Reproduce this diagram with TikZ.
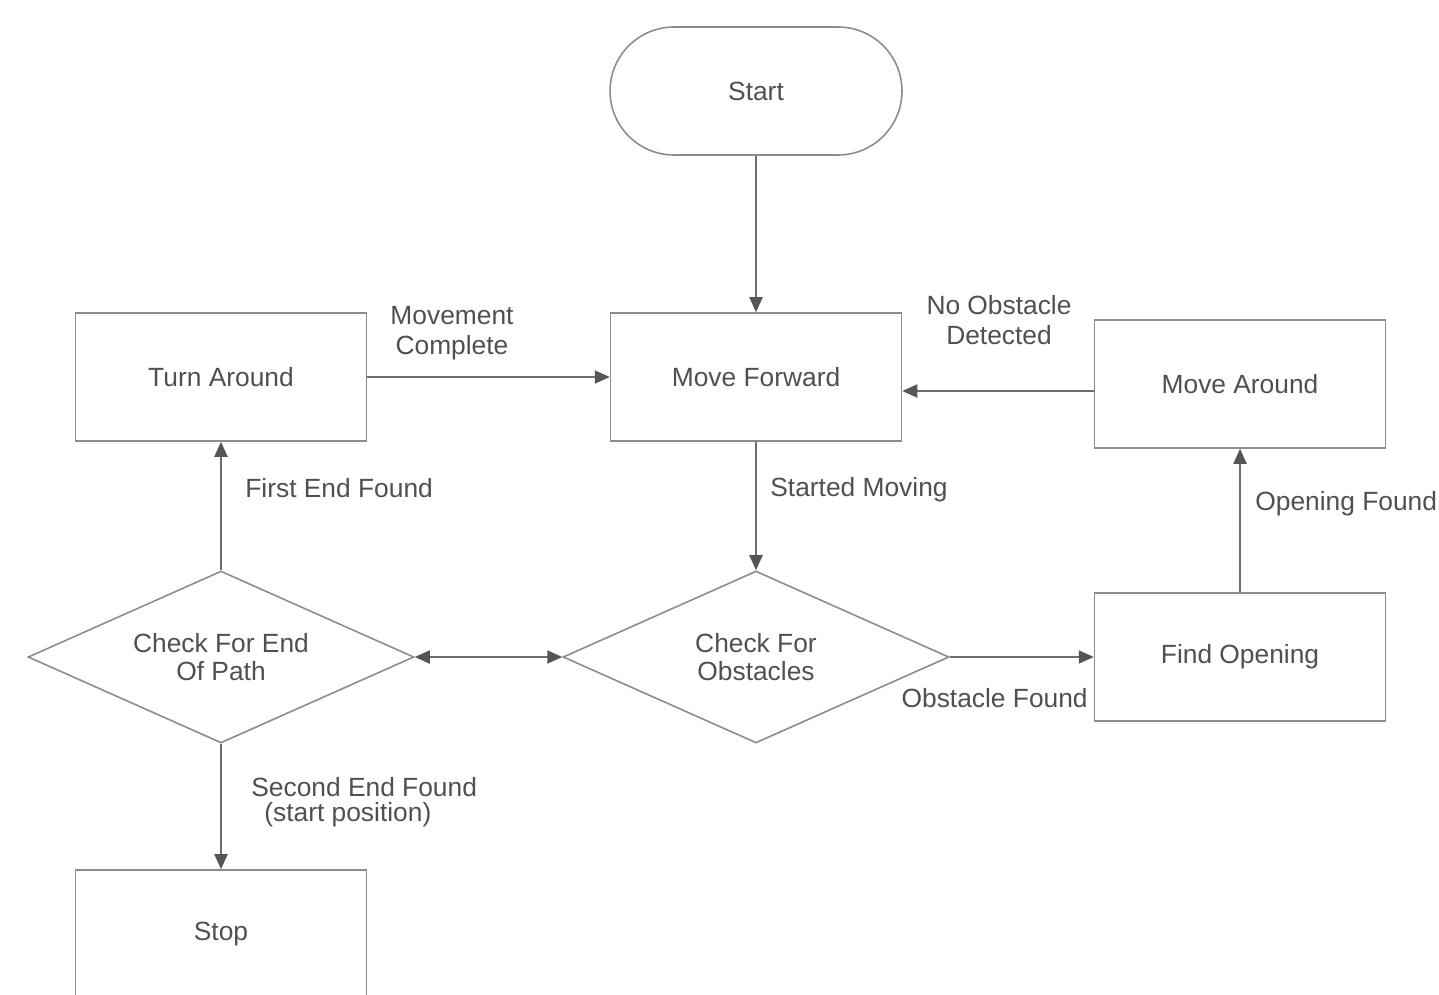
\documentclass[tikz,border=0pt]{standalone}
\usepackage{fontspec}
\setmainfont{Liberation Sans}
\usetikzlibrary{arrows.meta,shapes.geometric}
\definecolor{txt}{HTML}{505050}
\definecolor{bord}{HTML}{8C8C8C}
\definecolor{conn}{HTML}{6E6E6E}
\definecolor{head}{HTML}{555555}
\begin{document}
\begin{tikzpicture}[x=0.02cm,y=-0.02cm,
  base/.style={text=txt,font=\fontsize{15}{17}\selectfont,align=center,inner sep=0pt},
  box/.style={base,draw=bord,line width=0.9pt,minimum width=5.82cm,minimum height=2.56cm},
  term/.style={box,rounded corners=1.28cm,minimum width=5.84cm},
  dia/.style={base,diamond,shape aspect=2.244,draw=bord,line width=0.9pt,minimum width=7.72cm,minimum height=3.44cm,font=\fontsize{15}{15.5}\selectfont},
  arr/.style={draw=conn,line width=1.1pt,-{Triangle[length=0.3cm,width=0.26cm,color=head]}},
  lbl/.style={base}]
\useasboundingbox (0,0) rectangle (1439,994);
\clip (0,0) rectangle (1439,994);
\fill[white] (0,0) rectangle (1439,994);
\node[term] (start) at (756,91) {Start};
\node[box] (mf) at (756,377) {Move Forward};
\node[box] (ta) at (221,377) {Turn Around};
\node[box] (ma) at (1240,384) {Move Around};
\node[dia] (ce) at (221,657) {Check For End\\Of Path};
\node[dia] (co) at (756,657) {Check For\\Obstacles};
\node[box] (fo) at (1240,657) {Find Opening};
\node[box] (stop) at (221,934) {Stop};
\draw[arr] (start) -- (mf);
\draw[arr] (ta) -- (mf);
\draw[arr] ([yshift=-0.14cm]ma.west) -- ([yshift=-0.28cm]mf.east);
\draw[arr] (mf) -- (co);
\draw[arr,{Triangle[length=0.3cm,width=0.26cm,color=head]}-{Triangle[length=0.3cm,width=0.26cm,color=head]}] (ce) -- (co);
\draw[arr] (co) -- (fo);
\draw[arr] (fo) -- (ma);
\draw[arr] (ce) -- (ta);
\draw[arr] (ce) -- (stop);
\node[lbl] (l1) at (452,333) {Movement\\Complete};
\node[lbl] (l2) at (999,320) {No Obstacle\\Detected};
\node[lbl,anchor=west] (l3) at (770,490) {Started Moving};
\node[lbl,anchor=east] (l4) at (1088,698) {Obstacle Found};
\node[lbl,anchor=west] (l5) at (1255,504) {Opening Found};
\node[lbl,anchor=west] (l6) at (245,488) {First End Found};
\node[lbl,anchor=north west,align=left,font=\fontsize{15}{14}\selectfont] (l7) at (251,777) {Second End Found\\\hspace*{0.26cm}(start position)};
\end{tikzpicture}
\end{document}
